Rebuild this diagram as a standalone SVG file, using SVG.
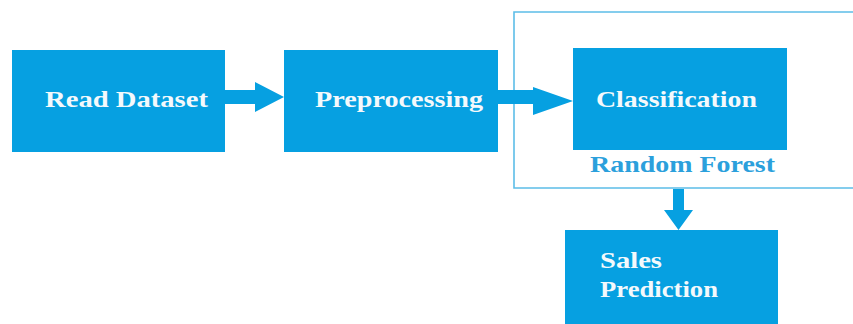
<svg xmlns="http://www.w3.org/2000/svg" width="853" height="324" viewBox="0 0 853 324">
<style>
.box{fill:#06a0e1}
.lbl{font-family:"Liberation Serif","Times New Roman",serif;font-weight:bold;font-size:23px;fill:#f4f9fc}
.sub{font-family:"Liberation Serif","Times New Roman",serif;font-weight:bold;font-size:23px;fill:#2ba0dc}
.conn{fill:#06a0e1}
</style>
<rect width="853" height="324" fill="#ffffff"/>
<g id="container">
<path d="M853 12 H514 V188 H853" fill="none" stroke="#5cbde8" stroke-width="1.6"/>
</g>
<g id="connectors">
<polygon class="conn" points="224,90 255,90 255,82 284,97 255,112 255,104 224,104"/>
<polygon class="conn" points="498,90 533,90 533,87 573,101 533,115 533,104 498,104"/>
<polygon class="conn" points="673,189 684,189 684,210 693,210 678.5,230 664,210 673,210"/>
</g>
<g id="read-dataset">
<rect class="box" x="12" y="50" width="213" height="102"/>
<text class="lbl" x="45" y="107" textLength="163" lengthAdjust="spacingAndGlyphs">Read Dataset</text>
</g>
<g id="preprocessing">
<rect class="box" x="284" y="50" width="214" height="102"/>
<text class="lbl" x="315" y="107" textLength="168" lengthAdjust="spacingAndGlyphs">Preprocessing</text>
</g>
<g id="classification">
<rect class="box" x="573" y="48" width="214" height="102"/>
<text class="lbl" x="596" y="107" textLength="161" lengthAdjust="spacingAndGlyphs">Classification</text>
</g>
<g id="random-forest">
<text class="sub" x="590" y="172" textLength="185" lengthAdjust="spacingAndGlyphs">Random Forest</text>
</g>
<g id="sales-prediction">
<rect class="box" x="565" y="230" width="213" height="100"/>
<text class="lbl" x="600" y="268" textLength="62" lengthAdjust="spacingAndGlyphs">Sales</text>
<text class="lbl" x="600" y="297" textLength="118" lengthAdjust="spacingAndGlyphs">Prediction</text>
</g>
</svg>
